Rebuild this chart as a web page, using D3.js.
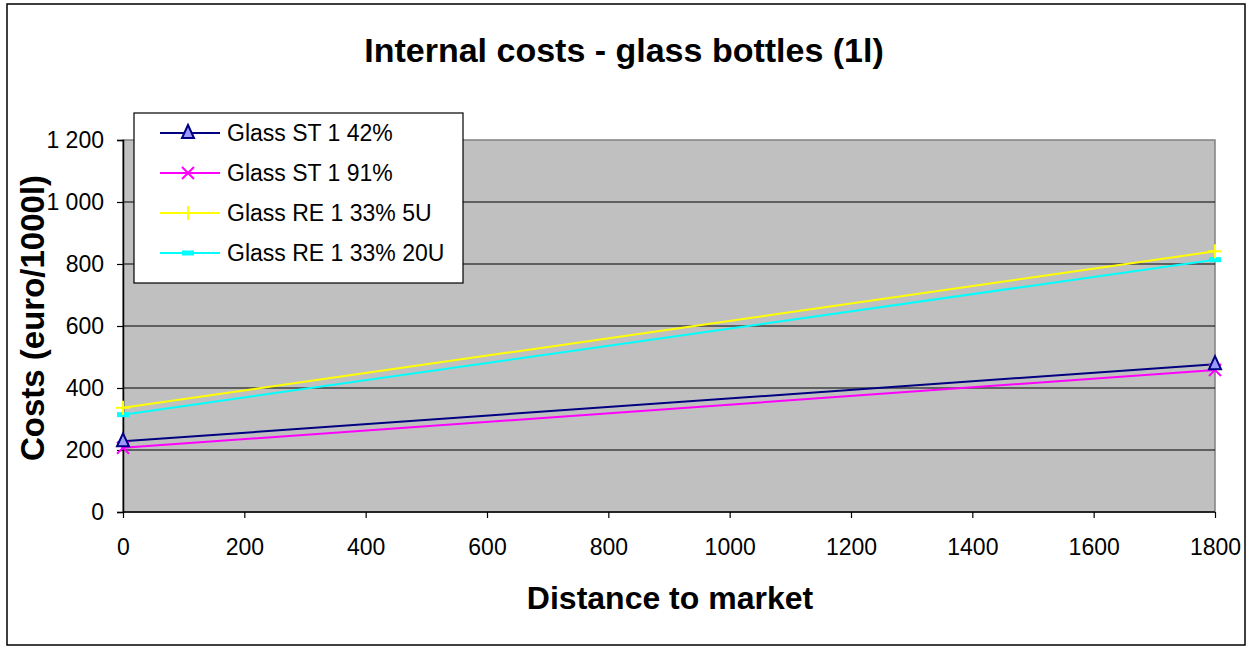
<!DOCTYPE html>
<html>
<head>
<meta charset="utf-8">
<script src="https://cdn.jsdelivr.net/npm/d3@7"></script>
<style>
  html, body { margin: 0; padding: 0; background: #fff; }
  svg { display: block; font-family: Arial, "Liberation Sans", sans-serif; }
</style>
</head>
<body>
<svg id="chart" width="1250" height="648"></svg>
<script>
// Distance to market (x) and cost values per series (euro/1000l)
const distances = [0, 1800];
const seriesNames = ["Glass ST 1 42%", "Glass ST 1 91%", "Glass RE 1 33% 5U", "Glass RE 1 33% 20U"];
const glassST42 = [228, 477];
const glassST91 = [207, 458];
const glassRE5U = [336, 841];
const glassRE20U = [314, 814];
const seriesColors = ["#000080", "#FF00FF", "#FFFF00", "#00FFFF"];
const seriesMarkers = ["triangle", "cross", "plus", "dash"];
const xTicks = [0, 200, 400, 600, 800, 1000, 1200, 1400, 1600, 1800];
const yTicks = [0, 200, 400, 600, 800, 1000, 1200];

const seriesValues = [glassST42, glassST91, glassRE5U, glassRE20U];
const series = seriesNames.map((name, i) => ({
  name, color: seriesColors[i], marker: seriesMarkers[i],
  points: distances.map((d, j) => ({ x: d, y: seriesValues[i][j] }))
}));

const svg = d3.select("#chart");
const plot = { left: 123, right: 1215, top: 140, bottom: 512 };
const FONT = "Arial, 'Liberation Sans', sans-serif";

// Outer frame
svg.append("rect").attr("x", 7).attr("y", 4).attr("width", 1238).attr("height", 641)
  .attr("fill", "#fff").attr("stroke", "#000").attr("stroke-width", 1.5);

const x = d3.scaleLinear().domain([0, 1800]).range([plot.left, plot.right]);
const y = d3.scaleLinear().domain([0, 1200]).range([plot.bottom, plot.top]);

// Plot background
svg.append("rect").attr("x", plot.left).attr("y", plot.top)
  .attr("width", plot.right - plot.left).attr("height", plot.bottom - plot.top)
  .attr("fill", "#C0C0C0").attr("stroke", "#808080").attr("stroke-width", 1.5);

// Horizontal grid lines
svg.append("g").selectAll("line").data(yTicks.filter(v => v > 0 && v < 1200)).join("line")
  .attr("x1", plot.left).attr("x2", plot.right)
  .attr("y1", d => y(d)).attr("y2", d => y(d))
  .attr("stroke", "#000").attr("stroke-width", 1);

// Axes
const fmtY = d => d >= 1000 ? `${Math.floor(d / 1000)} ${String(d % 1000).padStart(3, "0")}` : String(d);
const yAxis = svg.append("g").attr("transform", `translate(${plot.left},0)`)
  .call(d3.axisLeft(y).tickValues(yTicks).tickFormat(fmtY).tickSize(6).tickPadding(13));
const xAxis = svg.append("g").attr("transform", `translate(0,${plot.bottom})`)
  .call(d3.axisBottom(x).tickValues(xTicks).tickFormat(d => String(d)).tickSize(6).tickPadding(21));
[yAxis, xAxis].forEach(g => {
  g.attr("font-size", 23).attr("font-family", FONT);
  g.select(".domain").attr("stroke", "#000").attr("stroke-width", 1.5);
  g.selectAll(".tick line").attr("stroke", "#000").attr("stroke-width", 1.2);
  g.selectAll("text").attr("fill", "#000");
});
xAxis.select(".domain").remove();
svg.append("line").attr("x1", plot.left).attr("x2", plot.right)
  .attr("y1", plot.bottom).attr("y2", plot.bottom).attr("stroke", "#000").attr("stroke-width", 1.5);

// Marker drawing
function drawMarker(g, type, color, cx, cy) {
  if (type === "triangle") {
    g.append("path").attr("d", `M${cx},${cy - 8} L${cx + 6},${cy + 5} L${cx - 6},${cy + 5} Z`)
      .attr("fill", "#9999FF").attr("stroke", color).attr("stroke-width", 2);
  } else if (type === "cross") {
    g.append("path").attr("d", `M${cx - 6},${cy - 6} L${cx + 6},${cy + 6} M${cx - 6},${cy + 6} L${cx + 6},${cy - 6}`)
      .attr("stroke", color).attr("stroke-width", 2);
  } else if (type === "plus") {
    g.append("path").attr("d", `M${cx - 7},${cy} L${cx + 7},${cy} M${cx},${cy - 7} L${cx},${cy + 7}`)
      .attr("stroke", color).attr("stroke-width", 2);
  } else if (type === "dash") {
    g.append("rect").attr("x", cx - 6).attr("y", cy - 2.5).attr("width", 12).attr("height", 5)
      .attr("fill", color);
  }
}

// Series lines and markers
const line = d3.line().x(d => x(d.x)).y(d => y(d.y));
const lines = svg.append("g");
series.slice().reverse().forEach(s => {
  lines.append("path").datum(s.points).attr("d", line)
    .attr("fill", "none").attr("stroke", s.color).attr("stroke-width", 2);
});
series.slice().reverse().forEach(s => {
  s.points.forEach(p => drawMarker(lines, s.marker, s.color, x(p.x), y(p.y)));
});

// Legend
const legend = svg.append("g");
legend.append("rect").attr("x", 134).attr("y", 113).attr("width", 329).attr("height", 170)
  .attr("fill", "#fff").attr("stroke", "#000").attr("stroke-width", 1.2);
series.forEach((s, i) => {
  const ly = 133 + i * 40;
  legend.append("line").attr("x1", 160).attr("x2", 220).attr("y1", ly).attr("y2", ly)
    .attr("stroke", s.color).attr("stroke-width", 2);
  drawMarker(legend, s.marker, s.color, 188, ly);
  legend.append("text").attr("x", 227).attr("y", ly).attr("dy", "0.35em")
    .attr("font-size", 23).attr("font-family", FONT).attr("fill", "#000").text(s.name);
});

// Titles
svg.append("text").attr("x", 624).attr("y", 62).attr("text-anchor", "middle")
  .attr("font-size", 34).attr("font-weight", "bold").attr("font-family", FONT)
  .text("Internal costs - glass bottles (1l)");
svg.append("text").attr("x", 670).attr("y", 609).attr("text-anchor", "middle")
  .attr("font-size", 32).attr("font-weight", "bold").attr("font-family", FONT)
  .text("Distance to market");
svg.append("text").attr("transform", `translate(44,318) rotate(-90)`)
  .attr("text-anchor", "middle")
  .attr("font-size", 33).attr("font-weight", "bold").attr("font-family", FONT)
  .text("Costs (euro/1000l)");
</script>
</body>
</html>
